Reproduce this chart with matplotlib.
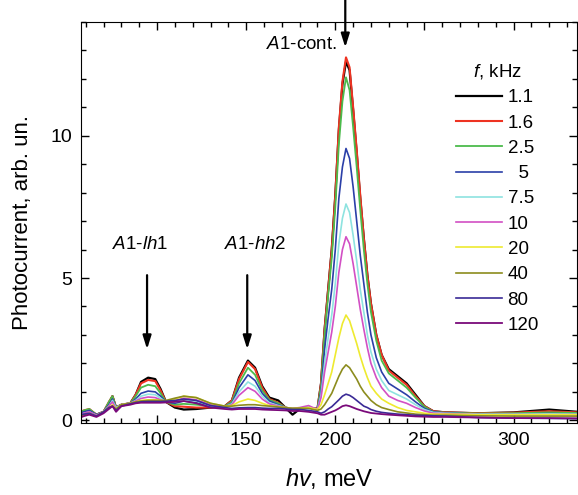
import matplotlib
matplotlib.use("Agg")

import matplotlib.pyplot as plt
from matplotlib.ticker import MultipleLocator

plt.rcParams["font.family"] = ["Liberation Sans", "DejaVu Sans"]
plt.rcParams["mathtext.fontset"] = "custom"
plt.rcParams["mathtext.rm"] = "Liberation Sans"
plt.rcParams["mathtext.it"] = "Liberation Sans:italic"

# ---------- DATA ----------
energy = [57, 59, 62, 66, 70, 73, 75, 77, 80,
          85, 88, 91, 95, 99, 102, 105, 110, 115,
          122, 130, 138,
          142, 146, 151, 155, 159, 163, 168, 172,
          176, 180, 185, 190,
          192, 194, 196, 198, 200, 202, 204, 206, 208, 210, 212, 214,
          216, 218, 220, 223, 226, 230, 235, 240, 245, 250, 255,
          262, 280, 300, 320, 336]

freqs = ["1.1", "1.6", "2.5", "  5", "7.5", "10", "20", "40", "80", "120"]

pc_1_1 = [0.25, 0.3, 0.35, 0.2, 0.3, 0.6, 0.85, 0.45, 0.55,
          0.6, 0.9, 1.35, 1.5, 1.45, 1.1, 0.65, 0.45, 0.38,
          0.4, 0.45, 0.5,
          0.7, 1.5, 2.1, 1.85, 1.2, 0.8, 0.7, 0.45,
          0.2, 0.4, 0.45, 0.4,
          1.3, 3.2, 4.6, 6.0, 7.9, 10.2, 11.8, 12.6, 12.3, 10.9, 9.4, 7.8,
          6.4, 5.1, 4.1, 3.0, 2.3, 1.8, 1.55, 1.3, 0.9, 0.5, 0.32,
          0.28, 0.25, 0.28, 0.38, 0.3]
pc_1_6 = [0.3, 0.35, 0.4, 0.2, 0.3, 0.65, 0.85, 0.45, 0.55,
          0.6, 0.9, 1.3, 1.42, 1.38, 1.05, 0.65, 0.5, 0.48,
          0.45, 0.45, 0.5,
          0.7, 1.45, 2.05, 1.8, 1.15, 0.75, 0.62, 0.45,
          0.4, 0.42, 0.45, 0.4,
          1.3, 3.2, 4.6, 6.0, 7.9, 10.3, 11.9, 12.75, 12.4, 11.0, 9.5, 7.9,
          6.4, 5.1, 4.1, 3.0, 2.3, 1.75, 1.5, 1.25, 0.85, 0.5, 0.32,
          0.28, 0.25, 0.27, 0.32, 0.28]
pc_2_5 = [0.3, 0.35, 0.4, 0.2, 0.3, 0.65, 0.85, 0.45, 0.55,
          0.6, 0.85, 1.15, 1.25, 1.2, 0.95, 0.65, 0.55, 0.58,
          0.55, 0.5, 0.5,
          0.65, 1.3, 1.85, 1.6, 1.05, 0.72, 0.6, 0.45,
          0.42, 0.43, 0.45, 0.4,
          1.2, 3.0, 4.4, 5.7, 7.5, 9.7, 11.2, 12.05, 11.6, 10.3, 8.9, 7.4,
          6.0, 4.8, 3.8, 2.8, 2.1, 1.65, 1.4, 1.15, 0.8, 0.48, 0.3,
          0.27, 0.24, 0.25, 0.28, 0.26]
pc_5 = [0.25, 0.3, 0.35, 0.2, 0.3, 0.55, 0.75, 0.45, 0.55,
        0.6, 0.75, 0.95, 1.03, 1.0, 0.85, 0.65, 0.6, 0.68,
        0.62, 0.5, 0.48,
        0.6, 1.15, 1.6, 1.4, 0.95, 0.68, 0.55, 0.45,
        0.42, 0.43, 0.45, 0.38,
        1.0, 2.5, 3.6, 4.6, 6.0, 7.8, 8.9, 9.55, 9.2, 8.2, 7.0, 5.8,
        4.8, 3.8, 3.0, 2.2, 1.7, 1.3, 1.1, 0.9, 0.65, 0.42, 0.3,
        0.26, 0.22, 0.22, 0.24, 0.22]
pc_7_5 = [0.2, 0.25, 0.3, 0.18, 0.3, 0.5, 0.7, 0.45, 0.55,
          0.6, 0.7, 0.85, 0.92, 0.9, 0.78, 0.65, 0.65, 0.72,
          0.68, 0.52, 0.48,
          0.58, 1.0, 1.35, 1.2, 0.85, 0.62, 0.52, 0.45,
          0.42, 0.43, 0.48, 0.38,
          0.9, 2.0, 2.9, 3.7, 4.8, 6.2, 7.1, 7.6, 7.3, 6.5, 5.6, 4.6,
          3.8, 3.0, 2.4, 1.8, 1.4, 1.05, 0.9, 0.75, 0.55, 0.38, 0.28,
          0.25, 0.22, 0.22, 0.23, 0.22]
pc_10 = [0.2, 0.25, 0.3, 0.18, 0.3, 0.5, 0.65, 0.4, 0.55,
         0.6, 0.68, 0.77, 0.82, 0.8, 0.72, 0.65, 0.68, 0.78,
         0.72, 0.55, 0.48,
         0.55, 0.88, 1.15, 1.02, 0.75, 0.58, 0.5, 0.45,
         0.42, 0.45, 0.52, 0.38,
         0.8, 1.7, 2.4, 3.1, 4.0, 5.2, 6.0, 6.45, 6.2, 5.5, 4.7, 3.9,
         3.2, 2.55, 2.0, 1.5, 1.15, 0.85, 0.7, 0.6, 0.45, 0.33, 0.25,
         0.24, 0.2, 0.2, 0.2, 0.2]
pc_20 = [0.15, 0.2, 0.25, 0.15, 0.3, 0.45, 0.55, 0.4, 0.55,
         0.6, 0.65, 0.7, 0.72, 0.72, 0.7, 0.68, 0.75, 0.85,
         0.8, 0.6, 0.5,
         0.52, 0.65, 0.75, 0.7, 0.6, 0.52, 0.48, 0.45,
         0.42, 0.43, 0.45, 0.38,
         0.55, 0.9, 1.3, 1.7, 2.3, 2.9, 3.4, 3.7, 3.5, 3.1, 2.7, 2.25,
         1.85, 1.5, 1.2, 0.95, 0.75, 0.6, 0.45, 0.35, 0.3, 0.25, 0.22,
         0.22, 0.2, 0.2, 0.2, 0.2]
pc_40 = [0.15, 0.2, 0.22, 0.15, 0.3, 0.45, 0.5, 0.4, 0.55,
         0.6, 0.65, 0.68, 0.7, 0.7, 0.7, 0.7, 0.78, 0.85,
         0.8, 0.6, 0.5,
         0.5, 0.53, 0.55, 0.55, 0.52, 0.5, 0.47, 0.45,
         0.42, 0.43, 0.42, 0.35,
         0.4, 0.55, 0.75, 0.95, 1.25, 1.55, 1.8, 1.95, 1.85, 1.65, 1.45, 1.2,
         1.0, 0.85, 0.7, 0.55, 0.45, 0.38, 0.3, 0.26, 0.22, 0.2, 0.18,
         0.18, 0.16, 0.15, 0.15, 0.15]
pc_80 = [0.2, 0.22, 0.25, 0.15, 0.3, 0.45, 0.5, 0.35, 0.5,
         0.58, 0.62, 0.65, 0.66, 0.66, 0.66, 0.67, 0.7, 0.75,
         0.7, 0.52, 0.45,
         0.42, 0.44, 0.45, 0.45, 0.43, 0.42, 0.42, 0.4,
         0.38, 0.38, 0.35, 0.3,
         0.25, 0.3, 0.4, 0.48, 0.6, 0.72, 0.85, 0.92, 0.88, 0.8, 0.7, 0.6,
         0.5, 0.45, 0.38, 0.32, 0.28, 0.25, 0.22, 0.2, 0.18, 0.17, 0.16,
         0.15, 0.1, 0.08, 0.07, 0.06]
pc_120 = [0.1, 0.15, 0.2, 0.12, 0.25, 0.4, 0.5, 0.3, 0.5,
          0.55, 0.6, 0.62, 0.62, 0.62, 0.62, 0.63, 0.65, 0.68,
          0.6, 0.45, 0.4,
          0.38, 0.4, 0.4, 0.4, 0.38, 0.37, 0.36, 0.35,
          0.33, 0.33, 0.3, 0.25,
          0.2, 0.2, 0.25, 0.3, 0.35, 0.42, 0.5, 0.53, 0.5, 0.45, 0.4, 0.36,
          0.32, 0.29, 0.26, 0.24, 0.22, 0.2, 0.18, 0.16, 0.14, 0.13, 0.12,
          0.12, 0.1, 0.08, 0.08, 0.07]

curves = [pc_1_1, pc_1_6, pc_2_5, pc_5, pc_7_5, pc_10, pc_20, pc_40, pc_80, pc_120]

# ---------- THEME ----------
COLORS = ["#000000", "#ee3322", "#4cbb4c", "#2b3fa8", "#8ee3e0",
          "#d24fc4", "#eeea30", "#8c8c1e", "#3a2a96", "#7a0a7a"]
WIDTHS = [1.6, 1.5, 1.3, 1.2, 1.2, 1.2, 1.2, 1.2, 1.2, 1.3]

fig = plt.figure(figsize=(5.78, 4.95), dpi=100)
ax = fig.add_axes([0.140, 0.145, 0.858, 0.811])

for vals, name, col, lw in zip(curves, freqs, COLORS, WIDTHS):
    ax.plot(energy, vals, color=col, lw=lw, label=name)

ax.set_xlim(57.3, 335.5)
ax.set_ylim(-0.1, 14.0)
ax.xaxis.set_major_locator(MultipleLocator(50))
ax.xaxis.set_minor_locator(MultipleLocator(10))
ax.yaxis.set_major_locator(MultipleLocator(5))
ax.yaxis.set_minor_locator(MultipleLocator(1))
ax.tick_params(which="both", direction="in", top=True, right=True,
               labelsize=14, width=1)
ax.tick_params(which="major", length=6, pad=6)
ax.tick_params(which="minor", length=3.5)

ax.set_xlabel(r"$hv$, meV", fontsize=17)
ax.set_ylabel("Photocurrent, arb. un.", fontsize=16)
ax.xaxis.set_label_coords(0.5, -0.107)
ax.yaxis.set_label_coords(-0.097, 0.5)

# ---------- ANNOTATIONS ----------
arrow = dict(arrowstyle="-|>,head_length=0.8,head_width=0.25",
             color="black", lw=1.6, mutation_scale=10, shrinkA=0, shrinkB=0)
ax.annotate("", xy=(94.4, 2.5), xytext=(94.4, 5.1), arrowprops=arrow)
ax.annotate("", xy=(150.6, 2.5), xytext=(150.6, 5.1), arrowprops=arrow)
ax.annotate("", xy=(205.6, 13.1), xytext=(205.6, 14.85), arrowprops=arrow,
            annotation_clip=False)

ax.text(90.4, 6.16, r"$A$1-$lh$1", fontsize=13.5, ha="center", va="center")
ax.text(155, 6.16, r"$A$1-$hh$2", fontsize=13.5, ha="center", va="center")
ax.text(201, 13.2, r"$A$1-cont.", fontsize=13.5, ha="right", va="center")

leg = ax.legend(title=r"$f$, kHz", loc="upper left", frameon=False,
                bbox_to_anchor=(456 / 578, 1 - 62 / 495),
                bbox_transform=fig.transFigure,
                fontsize=13.5, title_fontsize=13.5, handlelength=2.45,
                handletextpad=0.3, labelspacing=0.435, borderpad=0,
                borderaxespad=0)

fig.savefig("out.png", dpi=100)
